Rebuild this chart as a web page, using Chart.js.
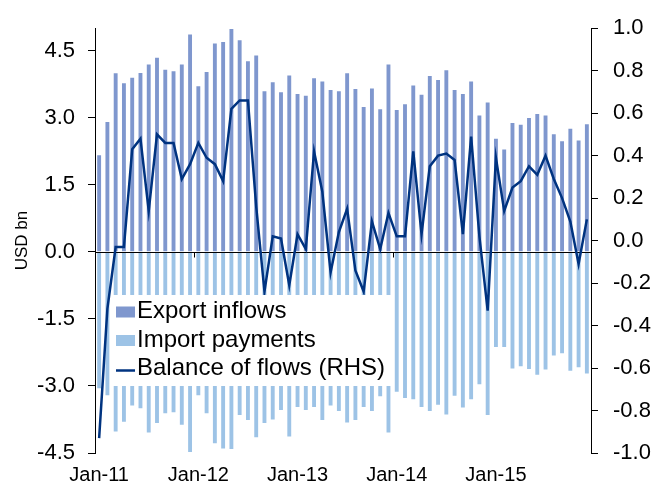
<!DOCTYPE html>
<html>
<head>
<meta charset="utf-8">
<script src="https://cdn.jsdelivr.net/npm/chart.js@4.4.1/dist/chart.umd.min.js"></script>
<style>
  html, body { margin: 0; padding: 0; background: #fff; }
  #wrap { width: 656px; height: 486px; }
</style>
</head>
<body>
<div id="wrap"><canvas id="chart" width="656" height="486"></canvas></div>
<script>
(() => {
  "use strict";

  // ── data (USD bn / RHS) ────────────────────────────────────────────────────
  const years = ["11", "12", "13", "14", "15"];
  const monthNames = ["Jan", "Feb", "Mar", "Apr", "May", "Jun", "Jul", "Aug", "Sep", "Oct", "Nov", "Dec"];
  const months = years.flatMap((y) => monthNames.map((m) => `${m}-${y}`));

  const exportInflows = [
    2.16, 2.90, 3.99, 3.77, 3.89, 4.00, 4.19, 4.34, 4.07, 4.04, 4.19, 4.86,
    3.70, 4.02, 4.66, 4.69, 4.98, 4.73, 4.26, 4.39, 3.59, 3.79, 3.57, 3.94,
    3.53, 3.49, 3.88, 3.81, 3.62, 3.59, 3.99, 3.64, 3.24, 3.65, 3.19, 4.19,
    3.17, 3.30, 3.72, 3.51, 3.93, 3.84, 4.06, 3.62, 3.53, 3.81, 3.05, 3.34,
    2.53, 2.29, 2.88, 2.84, 2.99, 3.08, 3.05, 2.63, 2.47, 2.75, 2.49, 2.85,
  ];
  const importPayments = [
    -3.05, -3.21, -4.02, -3.80, -3.44, -3.50, -4.04, -3.83, -3.61, -3.59, -3.87, -4.48,
    -3.21, -3.61, -4.28, -4.40, -4.41, -3.65, -3.76, -4.15, -3.83, -3.75, -3.54, -4.13,
    -3.47, -3.54, -3.47, -3.76, -3.44, -3.56, -3.82, -3.76, -3.47, -3.56, -3.23, -4.04,
    -3.13, -3.27, -3.30, -3.47, -3.56, -3.42, -3.64, -3.22, -3.48, -3.30, -2.96, -3.65,
    -2.13, -2.13, -2.61, -2.56, -2.62, -2.75, -2.63, -2.32, -2.27, -2.66, -2.58, -2.72,
  ];
  const balanceOfFlows = [
    -0.93, -0.32, -0.03, -0.03, 0.43, 0.48, 0.14, 0.50, 0.46, 0.46, 0.29, 0.36,
    0.46, 0.39, 0.36, 0.28, 0.62, 0.66, 0.66, 0.16, -0.24, 0.02, 0.01, -0.21,
    0.03, -0.04, 0.42, 0.23, -0.15, 0.04, 0.15, -0.14, -0.24, 0.09, -0.04, 0.13,
    0.02, 0.02, 0.42, 0.03, 0.35, 0.40, 0.41, 0.38, 0.03, 0.49, 0.02, -0.33,
    0.39, 0.14, 0.25, 0.28, 0.35, 0.31, 0.40, 0.29, 0.20, 0.09, -0.11, 0.10,
  ];

  const leftTicks = [-4.5, -3.0, -1.5, 0.0, 1.5, 3.0, 4.5];
  const rightTicks = [-1.0, -0.8, -0.6, -0.4, -0.2, 0.0, 0.2, 0.4, 0.6, 0.8, 1.0];
  const axisTickMonths = [12, 36]; // small tick marks hanging off the zero line

  const FONT = "'Liberation Sans', Arial, sans-serif";

  // zero line over the bars, under the balance line
  const zeroLine = {
    id: "zeroLine",
    beforeDatasetDraw(chart, args) {
      if (args.index !== 2) return;
      const { ctx, chartArea, scales } = chart;
      const y = Math.round(scales.y.getPixelForValue(0)) + 0.5;
      ctx.save();
      ctx.strokeStyle = "#000";
      ctx.lineWidth = 1;
      ctx.beginPath();
      ctx.moveTo(chartArea.left, y);
      ctx.lineTo(chartArea.right, y);
      for (const m of axisTickMonths) {
        const x = Math.round(scales.x.getPixelForValue(m - 0.5)) + 0.5;
        ctx.moveTo(x, y);
        ctx.lineTo(x, y + 5);
      }
      ctx.stroke();
      ctx.restore();
    },
  };

  // legend in a white box inside the plot, bottom-left
  const boxLegend = {
    id: "boxLegend",
    afterDraw(chart) {
      const { ctx } = chart;
      ctx.save();
      ctx.fillStyle = "#fff";
      ctx.fillRect(111, 295, 282, 91);
      ctx.font = `24px ${FONT}`;
      ctx.textBaseline = "middle";
      chart.data.datasets.forEach((ds, i) => {
        const cy = 311.5 + i * 28.5;
        if (ds.type === "line") {
          ctx.strokeStyle = ds.borderColor;
          ctx.lineWidth = 2.5;
          ctx.beginPath();
          ctx.moveTo(116, cy + 2);
          ctx.lineTo(135, cy + 2);
          ctx.stroke();
        } else {
          ctx.fillStyle = ds.backgroundColor;
          ctx.fillRect(116, cy - 5, 19, 11);
        }
        ctx.fillStyle = "#000";
        ctx.fillText(ds.label, 137, cy);
      });
      ctx.restore();
    },
  };

  new Chart(document.getElementById("chart").getContext("2d"), {
    data: {
      labels: months,
      datasets: [
        {
          type: "bar",
          label: "Export inflows",
          data: exportInflows,
          backgroundColor: "#7f97ce",
          barPercentage: 0.47,
          categoryPercentage: 1.0,
          yAxisID: "y",
          order: 1,
        },
        {
          type: "bar",
          label: "Import payments",
          data: importPayments,
          backgroundColor: "#9dc3e6",
          barPercentage: 0.47,
          categoryPercentage: 1.0,
          yAxisID: "y",
          order: 1,
        },
        {
          type: "line",
          label: "Balance of flows (RHS)",
          data: balanceOfFlows,
          borderColor: "#003380",
          borderWidth: 2.5,
          pointRadius: 0,
          tension: 0,
          yAxisID: "y2",
          order: 0,
        },
      ],
    },
    options: {
      responsive: false,
      animation: false,
      layout: { padding: { top: 26, left: 0, right: 0, bottom: 0 } },
      plugins: { legend: { display: false }, tooltip: { enabled: false } },
      scales: {
        x: {
          type: "category",
          stacked: true,
          afterFit: (s) => { s.height = 33; },
          grid: { display: false, drawTicks: false },
          border: { display: false },
          ticks: {
            autoSkip: false,
            maxRotation: 0,
            padding: 10,
            color: "#000",
            font: { family: FONT, size: 20 },
            callback: (v, i) => (months[i].startsWith("Jan") ? months[i] : ""),
          },
        },
        y: {
          position: "left",
          stacked: true,
          min: -4.5,
          max: 5.0,
          afterFit: (s) => { s.width = 95; },
          afterBuildTicks: (s) => { s.ticks = leftTicks.map((v) => ({ value: v })); },
          grid: { drawOnChartArea: false, tickLength: 7, tickColor: "#000" },
          border: { color: "#000" },
          ticks: {
            padding: 13,
            color: "#000",
            font: { family: FONT, size: 22 },
            callback: (v) => Number(v).toFixed(1),
          },
          title: {
            display: true,
            text: "USD bn",
            color: "#000",
            font: { family: FONT, size: 17 },
            padding: { top: 12, bottom: 0 },
          },
        },
        y2: {
          position: "right",
          min: -1.0,
          max: 1.0,
          afterFit: (s) => { s.width = 65; },
          afterBuildTicks: (s) => { s.ticks = rightTicks.map((v) => ({ value: v })); },
          grid: { drawOnChartArea: false, tickLength: 7, tickColor: "#000" },
          border: { color: "#000" },
          ticks: {
            padding: 15,
            color: "#000",
            font: { family: FONT, size: 22 },
            callback: (v) => Number(v).toFixed(1),
          },
        },
      },
    },
    plugins: [zeroLine, boxLegend],
  });
})();
</script>
</body>
</html>
